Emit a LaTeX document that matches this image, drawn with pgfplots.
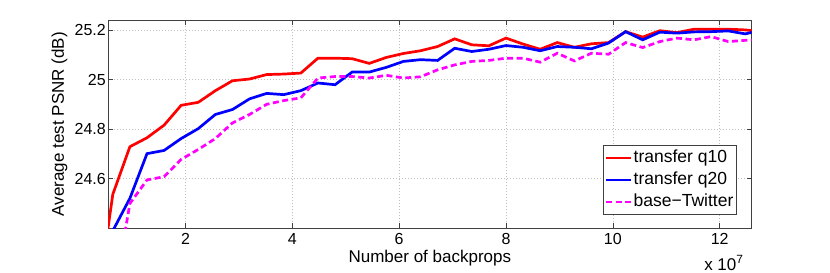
\documentclass[border=0pt]{standalone}
\usepackage{pgfplots}
\pgfplotsset{compat=1.18}
\usepackage{fontspec}
\setmainfont{Liberation Sans}
\definecolor{axgray}{RGB}{64,64,64}
\definecolor{mred}{RGB}{255,0,0}
\definecolor{mblue}{RGB}{0,0,255}
\definecolor{mmag}{RGB}{255,0,255}
\begin{document}
\begin{tikzpicture}
\begin{axis}[
  scale only axis,
  width=643.7pt, height=208.3pt,
  xmin=0.55, xmax=12.6, ymin=24.4, ymax=25.24,
  xtick={2,4,6,8,10,12},
  ytick={24.6,24.8,25,25.2},
  yticklabels={24.6,24.8,25,25.2},
  scaled x ticks=false,
  /pgf/number format/assume math mode=true,
  tick label style={font=\fontsize{16}{19}\selectfont},
  xticklabel style={yshift=-1.4pt},
  yticklabel style={xshift=1.3pt},
  axis line style={axgray, line width=0.6pt},
  tick style={axgray, line width=0.6pt},
  major tick length=5pt,
  tick align=inside,
  grid=major,
  major grid style={dash pattern=on 1pt off 2pt, gray!50, line width=0.5pt},
  xlabel={Number of backprops},
  ylabel={Average test PSNR (dB)},
  xlabel style={at={(axis description cs:0.5,0)}, anchor=base, yshift=-34.7pt, font=\fontsize{17}{20}\selectfont},
  ylabel style={at={(axis description cs:-0.0684,0.5)}, anchor=base, font=\fontsize{17}{20}\selectfont},
  legend style={at={(axis description cs:1,0)}, anchor=south east, xshift=-15pt, yshift=13.3pt,
    draw=axgray, line width=0.6pt,
    font=\fontsize{17.5}{20}\selectfont, inner xsep=2pt, inner ysep=5pt, row sep=6.5pt,
    nodes={inner xsep=1pt, inner ysep=0pt, text height=12pt, text depth=3.5pt},
    legend cell align=left},
  legend image code/.code={\draw[#1] (0pt,0pt) -- (25pt,0pt);},
  clip=true,
]
\addplot[mred, line width=2.7pt] coordinates {
(0.32,24.05) (0.64,24.537) (0.96,24.729) (1.28,24.765) (1.60,24.816) (1.92,24.896)
(2.24,24.908) (2.56,24.955) (2.88,24.995) (3.20,25.002) (3.52,25.020) (3.84,25.022)
(4.16,25.026) (4.48,25.086) (4.80,25.086) (5.12,25.084) (5.44,25.065) (5.76,25.089)
(6.08,25.105) (6.40,25.116) (6.72,25.133) (7.04,25.164) (7.36,25.140) (7.68,25.136)
(8.00,25.167) (8.32,25.143) (8.64,25.122) (8.96,25.149) (9.28,25.130) (9.60,25.144)
(9.92,25.149) (10.24,25.193) (10.56,25.171) (10.88,25.197) (11.20,25.189) (11.52,25.203)
(11.84,25.203) (12.16,25.203) (12.48,25.200) (12.80,25.193)};
\addlegendentry{transfer q10}
\addplot[mblue, line width=2.7pt] coordinates {
(0.32,24.10) (0.64,24.390) (0.96,24.521) (1.28,24.701) (1.60,24.714) (1.92,24.762)
(2.24,24.802) (2.56,24.859) (2.88,24.879) (3.20,24.922) (3.52,24.944) (3.84,24.939)
(4.16,24.955) (4.48,24.986) (4.80,24.979) (5.12,25.030) (5.44,25.030) (5.76,25.049)
(6.08,25.073) (6.40,25.080) (6.72,25.077) (7.04,25.126) (7.36,25.113) (7.68,25.122)
(8.00,25.137) (8.32,25.130) (8.64,25.116) (8.96,25.133) (9.28,25.130) (9.60,25.124)
(9.92,25.147) (10.24,25.193) (10.56,25.160) (10.88,25.191) (11.20,25.187) (11.52,25.192)
(11.84,25.193) (12.16,25.196) (12.48,25.184) (12.80,25.200)};
\addlegendentry{transfer q20}
\addplot[mmag, line width=2.7pt, dash pattern=on 6pt off 3.5pt] coordinates {
(0.32,23.90) (0.64,24.10) (0.96,24.500) (1.28,24.595) (1.60,24.608) (1.92,24.678)
(2.24,24.718) (2.56,24.762) (2.88,24.825) (3.20,24.859) (3.52,24.900) (3.84,24.915)
(4.16,24.926) (4.48,25.006) (4.80,25.012) (5.12,25.012) (5.44,25.006) (5.76,25.017)
(6.08,25.006) (6.40,25.011) (6.72,25.039) (7.04,25.059) (7.36,25.073) (7.68,25.077)
(8.00,25.086) (8.32,25.086) (8.64,25.070) (8.96,25.106) (9.28,25.075) (9.60,25.106)
(9.92,25.102) (10.24,25.149) (10.56,25.129) (10.88,25.153) (11.20,25.167) (11.52,25.160)
(11.84,25.173) (12.16,25.153) (12.48,25.158) (12.80,25.162)};
\addlegendentry{base−Twitter}
\end{axis}
\node[anchor=base east, inner sep=0pt, font=\fontsize{17}{20}\selectfont, text=black]
  at ([xshift=-8pt,yshift=-41.7pt]current axis.south east) {x 10\textsuperscript{7}};
\path[use as bounding box] ([shift={(-108pt,-44.7pt)}]current axis.south west) rectangle ([shift={(78.3pt,20pt)}]current axis.north east);
\end{tikzpicture}
\end{document}
